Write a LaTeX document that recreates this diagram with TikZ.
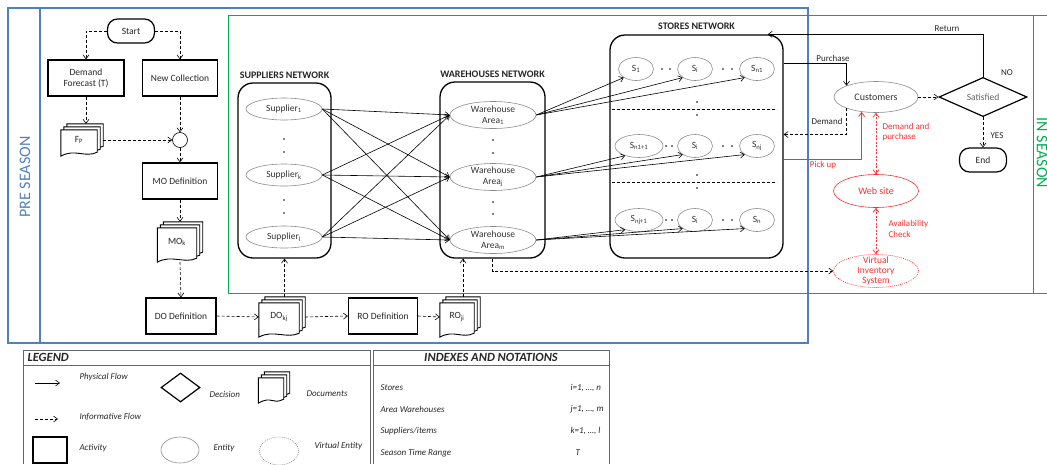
\documentclass[tikz,border=0pt]{standalone}
\usepackage{fontspec}
\setmainfont{Carlito}
\usetikzlibrary{calc}
\usetikzlibrary{positioning}
\usetikzlibrary{shapes.geometric}
\usetikzlibrary{arrows.meta}
\usetikzlibrary{backgrounds}

\definecolor{preblue}{RGB}{79,129,189}
\definecolor{ingreen}{RGB}{0,176,80}
\definecolor{webred}{RGB}{255,45,45}

\tikzset{
  activity/.style={draw, line width=1.2pt, minimum height=36pt, inner sep=1pt, align=center},
  terminal/.style={draw, line width=1.2pt, rounded corners=10pt, minimum width=47pt, minimum height=24pt},
  decision/.style={diamond, draw, line width=1.2pt, inner sep=0pt},
  entity/.style={ellipse, draw=black!45, line width=0.6pt, inner sep=0pt, align=center, text=black!80},
  virtual/.style={ellipse, draw=webred, dash pattern=on 1pt off 1pt, line width=0.6pt, inner sep=0pt, align=center, text=webred},
  network/.style={draw, line width=1.3pt, rounded corners=15pt},
  nettitle/.style={font=\bfseries\fontsize{10}{12}\selectfont},
  docnode/.style={inner sep=0pt},
  docline/.style={draw, line width=0.9pt, fill=white},
  phys/.style={-{Straight Barb[length=4pt,width=6pt]}, line width=0.6pt},
  info/.style={-{Straight Barb[length=4pt,width=6pt]}, dash pattern=on 3pt off 2pt, line width=0.6pt},
  webflow/.style={{Straight Barb[length=4pt,width=6pt]}-{Straight Barb[length=4pt,width=6pt]}, webred, dash pattern=on 2pt off 1.5pt, line width=0.7pt},
  lbl/.style={font=\fontsize{9}{10.5}\selectfont},
  legtext/.style={anchor=west, font=\itshape\fontsize{9}{10.5}\selectfont},
  legtitle/.style={font=\bfseries\itshape\fontsize{12.5}{14}\selectfont},
  legline/.style={draw=black!60, line width=0.9pt},
  sep/.style={dash pattern=on 3pt off 2pt, line width=0.6pt}
}

% stack of three pages with a wavy foot
\newcommand\docstack[1]{%
  \foreach \pg in {6,3,0}{%
    \draw[docline] ($(#1.north west)+(\pg,6-\pg)$) -- ($(#1.north east)+(\pg-6,6-\pg)$)
      -- ($(#1.south east)+(\pg-6,-4-\pg)$)
      .. controls ($(#1.south east)+(\pg-18,2-\pg)$) and ($(#1.south west)+(\pg+14,-8-\pg)$)
      .. ($(#1.south west)+(\pg,-\pg)$) -- cycle;}}
\newcommand\doctext[1]{\raisebox{-3pt}{\hspace*{-6pt}#1}}

\begin{document}
\begin{tikzpicture}[x=1pt, y=-1pt, font=\fontsize{9.5}{11}\selectfont, text=black!85]
  \useasboundingbox (0,0) rectangle (1047,464);

  % season frames
  \draw[preblue, line width=1.3pt] (8,8) rectangle (808,343);
  \draw[preblue, line width=1.3pt] (40,8) -- (40,343);
  \node[rotate=90, text=preblue, font=\fontsize{16}{18}\selectfont] (pre) at (25,177) {PRE SEASON};
  \draw[ingreen, line width=1pt] (1047,15) -- (228,15) -- (228,293) -- (1047,293);
  \draw[ingreen, line width=1pt] (1033,15) -- (1033,293);
  \node[rotate=-90, text=ingreen, font=\fontsize{16}{18}\selectfont] (ins) at (1042,153) {IN SEASON};

  % pre season flow
  \node[terminal] (start) at (131,31) {Start};
  \node[activity, minimum width=76pt] (df) at (86,78) {Demand\\Forecast (T)};
  \node[activity, minimum width=75pt] (nc) at (180,78) {New Collection};
  \node[docnode, minimum width=42pt, minimum height=32pt] (fp) at (82,140) {\doctext{F\textsubscript{P}}};
  \node[circle, draw, line width=0.6pt, minimum size=15pt, inner sep=0pt] (join) at (180,140) {};
  \node[activity, minimum width=75pt] (mod) at (180,181) {MO Definition};
  \node[docnode, minimum width=45pt, minimum height=40pt] (mok) at (180,242) {\doctext{MO\textsubscript{k}}};
  \node[activity, minimum width=70pt] (dod) at (181,316) {DO Definition};
  \node[docnode, minimum width=46pt, minimum height=40pt] (dokj) at (282,317) {\doctext{DO\textsubscript{kj}}};
  \node[activity, minimum width=69pt] (rod) at (383,316) {RO Definition};
  \node[docnode, minimum width=40pt, minimum height=40pt] (roji) at (460,317) {\doctext{RO\textsubscript{ji}}};

  % networks
  \node[network, minimum width=93pt, minimum height=175pt] (supnet) at (284.5,170.5) {};
  \node[nettitle, above=0pt of supnet] (suptitle) {SUPPLIERS NETWORK};
  \node[network, minimum width=105pt, minimum height=176pt] (warenet) at (492.5,170) {};
  \node[nettitle, above=0pt of warenet] (waretitle) {WAREHOUSES NETWORK};
  \node[network, minimum width=173pt, minimum height=223pt] (storenet) at (696.5,146.5) {};
  \node[nettitle, above=1pt of storenet] (storetitle) {STORES NETWORK};

  \node[entity, minimum width=76pt, minimum height=22pt] (sup1) at (284,109) {Supplier\textsubscript{1}};
  \node[entity, minimum width=76pt, minimum height=22pt] (supk) at (284,175) {Supplier\textsubscript{k}};
  \node[entity, minimum width=76pt, minimum height=22pt] (supl) at (284,237) {Supplier\textsubscript{l}};

  \node[entity, minimum width=86pt, minimum height=27pt, inner ysep=-2pt] (wa1) at (493,115) {Warehouse\\Area\textsubscript{1}};
  \node[entity, minimum width=86pt, minimum height=27pt, inner ysep=-2pt] (waj) at (493,177) {Warehouse\\Area\textsubscript{j}};
  \node[entity, minimum width=86pt, minimum height=27pt, inner ysep=-2pt] (wam) at (493,240) {Warehouse\\Area\textsubscript{m}};

  \node[entity, minimum width=35pt, minimum height=23pt] (s11) at (636,69) {S\textsubscript{1}};
  \node[entity, minimum width=35pt, minimum height=23pt] (s1i) at (695,69) {S\textsubscript{i}};
  \node[entity, minimum width=35pt, minimum height=23pt] (s1n) at (757,69) {S\textsubscript{n1}};
  \node[entity, minimum width=48pt, minimum height=23pt] (s21) at (639,146) {S\textsubscript{n1+1}};
  \node[entity, minimum width=35pt, minimum height=23pt] (s2i) at (695,146) {S\textsubscript{i}};
  \node[entity, minimum width=35pt, minimum height=23pt] (s2n) at (757,146) {S\textsubscript{nj}};
  \node[entity, minimum width=48pt, minimum height=23pt] (s31) at (639,220) {S\textsubscript{nj+1}};
  \node[entity, minimum width=35pt, minimum height=23pt] (s3i) at (695,220) {S\textsubscript{i}};
  \node[entity, minimum width=35pt, minimum height=23pt] (s3n) at (757,220) {S\textsubscript{n}};

  \draw[sep] (612,109) -- (777,109);
  \draw[sep] (612,182) -- (777,182);
  \foreach \p in {(284,139),(284,152),(284,200),(284,213),(493,140),(493,153),(493,202),(493,214),
                  (697,102),(697,115),(697,175),(697,188),(662,69),(670,69),(723,69),(732,69),
                  (666,146),(672,146),(723,146),(732,146),(666,220),(672,220),(723,220),(732,220)}
    \fill \p circle (0.9pt);

  % in season side
  \node[entity, minimum width=84pt, minimum height=31pt, font=\fontsize{10}{12}\selectfont] (cust) at (876,97) {Customers};
  \node[decision, minimum width=88pt, minimum height=35pt, text=black!60] (sat) at (983,97) {Satisfied};
  \node[terminal] (end) at (983,160) {End};
  \node[entity, draw=webred, text=webred, minimum width=85pt, minimum height=33pt, font=\fontsize{10}{12}\selectfont] (web) at (876,191) {Web site};
  \node[virtual, minimum width=85pt, minimum height=33pt, inner ysep=-7pt, font=\fontsize{9.5}{10}\selectfont] (vis) at (876,271) {Virtual\\Inventory\\System};

  \begin{pgfonlayer}{background}
    \docstack{fp} \docstack{mok} \docstack{dokj} \docstack{roji}
  \end{pgfonlayer}

  % informative flows before the season
  \draw[info] (start.west) -| (df.north);
  \draw[info] (start.east) -| (nc.north);
  \draw[info] (df.south) -- (df.south |- fp.north);
  \draw[info] (nc.south) -- (join.north);
  \draw[info] (fp.east) -- (join.west);
  \draw[info] (join.south) -- (mod.north);
  \draw[info] (mod.south) -- (mok.north);
  \draw[info] (mok.south) -- (dod.north);
  \draw[info] (dod.east) -- (dokj.west);
  \draw[info] (dokj.east) -- (rod.west);
  \draw[info] (rod.east) -- (roji.west);
  \draw[info] (supnet.south |- dokj.north) -- (supnet.south);
  \draw[info] ([xshift=3pt]roji.north) -- ([xshift=3pt]roji.north |- warenet.south);

  % physical flows
  \foreach \s in {sup1,supk,supl}
    \foreach \w in {wa1,waj,wam}
      \draw[phys] (\s.east) -- (\w.west);
  \foreach \w/\r in {wa1/1,waj/2,wam/3}
    \foreach \c in {1,i,n}
      \draw[phys] (\w.east) -- (s\r\c.215);

  \draw[phys] (sat.north) |- ([xshift=-16pt]storenet.north east);
  \draw[phys] ([yshift=83pt]storenet.east) -| (cust.159);
  \draw[info] (cust.201) |- ([yshift=12pt]storenet.east);
  \draw[phys, webred, line width=0.8pt] ([yshift=-13pt]storenet.east) -| (cust.226);
  \draw[info] (cust.east) -- (sat.west);
  \draw[info] (sat.south) -- (end.north);
  \draw[webflow] (cust.south) -- (web.north);
  \draw[webflow] (web.south) -- (vis.north);
  \draw[info] (warenet.south) |- (vis.west);

  \node[lbl] (lret) at (947,29) {Return};
  \node[lbl] (lpur) at (833,58) {Purchase};
  \node[lbl] (ldem) at (827,121) {Demand};
  \node[lbl, text=webred] (lpick) at (823,165) {Pick up};
  \node[lbl, text=webred, align=left, anchor=west] (ldp) at (879,132) {Demand and\\purchase};
  \node[lbl, text=webred, align=left, anchor=west] (lav) at (885,229) {Availability\\Check};
  \node[lbl] (lno) at (1007,73) {NO};
  \node[lbl] (lyes) at (997,136) {YES};

  % legend
  \draw[legline] (23,464) |- (370,350) -- (370,464);
  \draw[legline] (23,365) -- (370,365);
  \node[legtitle, anchor=west] (legt) at (24,357.5) {LEGEND};
  \coordinate (pf1) at (35,383);
  \coordinate (pf2) at (60,383);
  \draw[phys] (pf1) -- (pf2);
  \node[legtext] (lpf) at (76,377) {Physical Flow};
  \coordinate (if1) at (35,419);
  \coordinate (if2) at (58,419);
  \draw[info] (if1) -- (if2);
  \node[legtext] (lif) at (76,417) {Informative Flow};
  \node[decision, minimum width=39pt, minimum height=29pt] (legdec) at (180.5,387.5) {};
  \node[legtext] (ldec) at (206,394) {Decision};
  \node[docnode, minimum width=31pt, minimum height=31pt] (legdoc) at (274,387.5) {};
  \begin{pgfonlayer}{background}
    \docstack{legdoc}
  \end{pgfonlayer}
  \node[legtext] (ldoc) at (303,394) {Documents};
  \node[activity, minimum width=34pt, minimum height=26pt] (legact) at (50,450) {};
  \node[legtext] (lact) at (76,448) {Activity};
  \node[entity, minimum width=38pt, minimum height=26pt] (legent) at (180,450) {};
  \node[legtext] (lent) at (210,448) {Entity};
  \node[ellipse, draw=black!45, dash pattern=on 1pt off 1pt, line width=0.6pt, minimum width=39pt, minimum height=28pt] (legvirt) at (279,451) {};
  \node[legtext] (lvirt) at (311,446) {Virtual Entity};

  % indexes and notations
  \draw[legline] (373,464) |- (609,350) -- (609,464);
  \draw[legline] (373,365) -- (609,365);
  \node[legtitle] (idxt) at (491,357.5) {INDEXES AND NOTATIONS};
  \node[legtext] (ist) at (377,388) {Stores};
  \node[legtext] (iaw) at (377,409) {Area Warehouses};
  \node[legtext] (isu) at (377,431) {Suppliers/items};
  \node[legtext] (ise) at (377,453) {Season Time Range};
  \node[legtext] (vst) at (567,388) {i=1, \dots, n};
  \node[legtext] (vaw) at (567,409) {j=1, \dots, m};
  \node[legtext] (vsu) at (567,431) {k=1, \dots, l};
  \node[legtext] (vse) at (572,453) {T};
\end{tikzpicture}
\end{document}
